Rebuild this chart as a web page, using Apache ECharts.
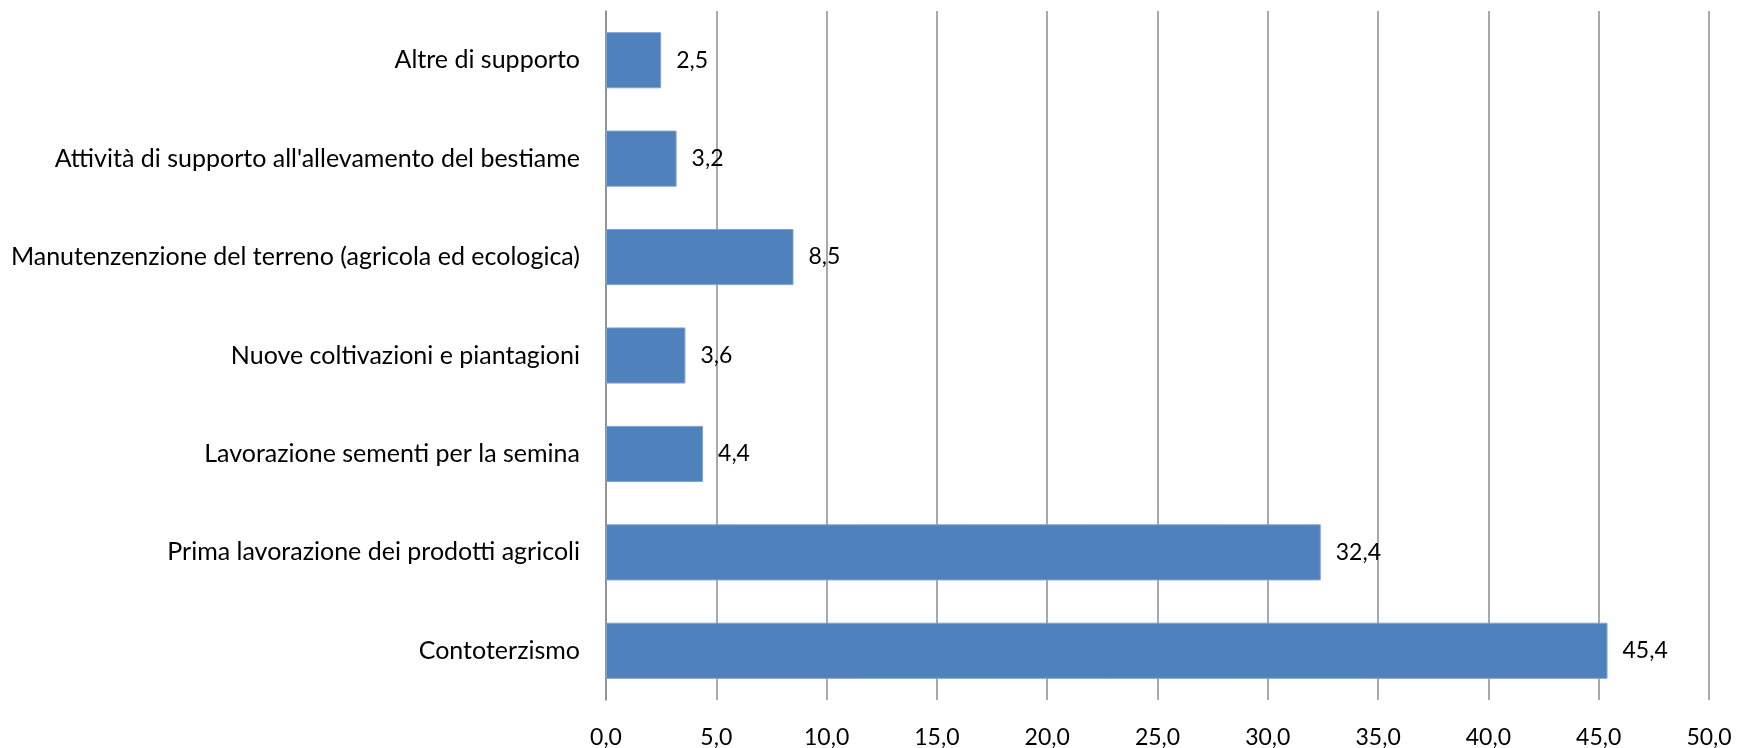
<!DOCTYPE html>
<html>
<head>
<meta charset="utf-8">
<title>Attività di supporto</title>
<script src="https://cdn.jsdelivr.net/npm/echarts@6/dist/echarts.min.js"></script>
<style>
	html, body { margin: 0; padding: 0; background: #fff; }
	#main-chart { width: 1750px; height: 748px; }
</style>
</head>
<body>
<div id="main-chart"></div>
<script>
/*
 * 数据
 */
var categoryArr = [
	'Altre di supporto',
	"Attività di supporto all'allevamento del bestiame",
	'Manutenzenzione del terreno (agricola ed ecologica)',
	'Nuove coltivazioni e piantagioni',
	'Lavorazione sementi per la semina',
	'Prima lavorazione dei prodotti agricoli',
	'Contoterzismo'
];
var valueArr = [2.5, 3.2, 8.5, 3.6, 4.4, 32.4, 45.4];
var tickArr = [0, 5, 10, 15, 20, 25, 30, 35, 40, 45, 50];

var FONT_ = 'Lato, "Open Sans", sans-serif';

/*
 * 数值格式 (逗号小数)
 */
var fmtComma = function(v) {
	return Number(v).toFixed(1).replace('.', ',');
};

/*
 * 横向柱状图
 */
function initBarChart() {
	var chart = echarts.init(document.getElementById('main-chart'));
	var option = {
		animation: false,
		grid: {
			left: 606,
			right: 41,
			top: 11,
			bottom: 48,
			outerBoundsMode: 'none'
		},
		xAxis: {
			type: 'value',
			min: tickArr[0],
			max: tickArr[tickArr.length - 1],
			interval: 5,
			axisLine: { show: false },
			axisTick: { show: false },
			axisLabel: {
				margin: 26,
				fontFamily: FONT_,
				fontSize: 23,
				color: '#000',
				formatter: function(v) { return fmtComma(v); }
			},
			splitLine: {
				show: true,
				lineStyle: { color: '#8c8c8c', width: 1.5 }
			}
		},
		yAxis: {
			type: 'category',
			inverse: true,
			data: categoryArr,
			axisLine: {
				show: true,
				lineStyle: { color: '#8c8c8c', width: 1.5 }
			},
			axisTick: { show: false },
			axisLabel: {
				margin: 26,
				fontFamily: FONT_,
				fontSize: 25,
				color: '#000'
			}
		},
		series: [{
			type: 'bar',
			data: valueArr,
			barCategoryGap: '43%',
			itemStyle: {
				color: '#4f81bd',
				borderColor: '#7fa3d1',
				borderWidth: 1
			},
			label: {
				show: true,
				position: 'right',
				distance: 15,
				fontFamily: FONT_,
				fontSize: 23,
				color: '#000',
				formatter: function(p) { return fmtComma(p.value); }
			}
		}]
	};
	chart.setOption(option);
}

initBarChart();
</script>
</body>
</html>
